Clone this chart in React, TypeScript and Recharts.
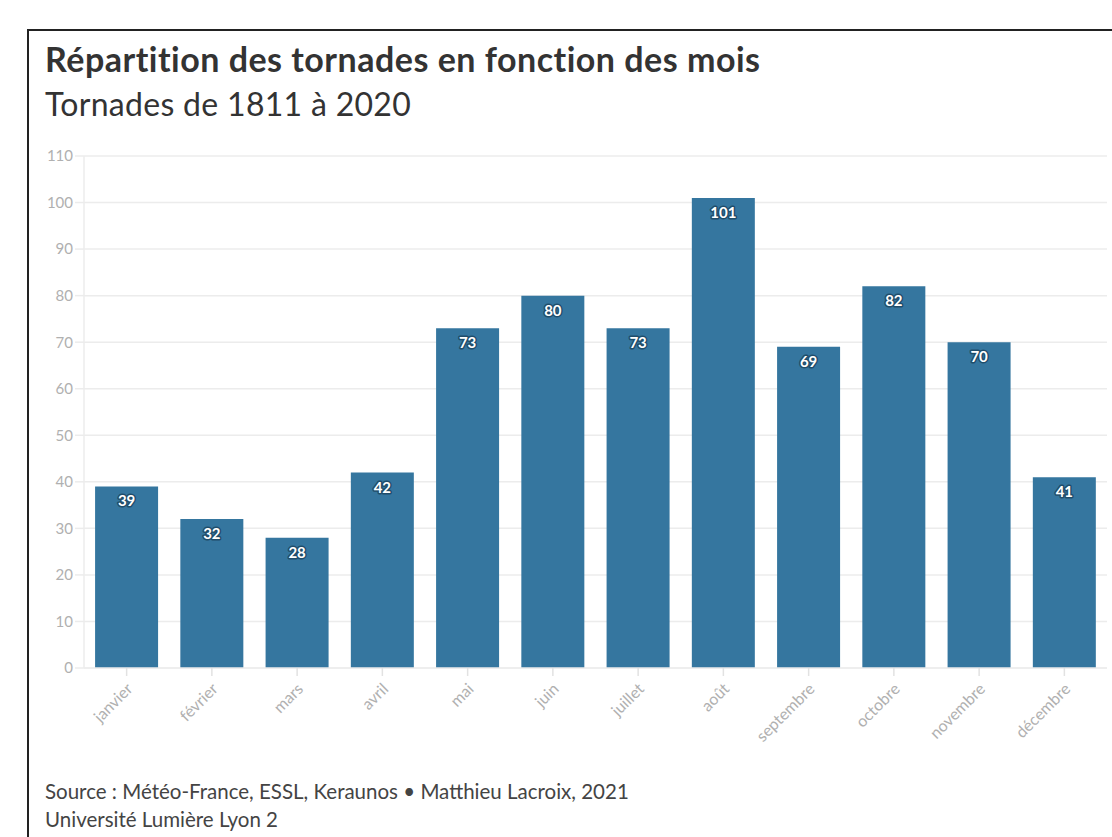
import { BarChart, Bar, XAxis, YAxis, CartesianGrid, LabelList } from "recharts";

const MONTHS = [
  "janvier",
  "février",
  "mars",
  "avril",
  "mai",
  "juin",
  "juillet",
  "août",
  "septembre",
  "octobre",
  "novembre",
  "décembre",
];
const TORNADES = [39, 32, 28, 42, 73, 80, 73, 101, 69, 82, 70, 41];
const Y_TICKS = [0, 10, 20, 30, 40, 50, 60, 70, 80, 90, 100, 110];

const FONT = "Lato, 'Noto Sans', sans-serif";
const BAR = "#35769f";

const data = MONTHS.map((m, i) => ({ mois: m, n: TORNADES[i] }));

type TickProps = { x?: number; y?: number; payload?: { value: string } };

function MonthTick({ x = 0, y = 0, payload }: TickProps) {
  return (
    <g transform={`translate(${x + 7},${y + 12})`}>
      <text
        transform="rotate(-45)"
        textAnchor="end"
        fill="#b0b0b0"
        fontSize={16}
        fontFamily={FONT}
      >
        {payload?.value}
      </text>
    </g>
  );
}

type LabelProps = { x?: number; y?: number; width?: number; value?: number };

function ValueLabel({ x = 0, y = 0, width = 0, value }: LabelProps) {
  return (
    <text
      x={x + width / 2}
      y={y + 14}
      textAnchor="middle"
      dominantBaseline="central"
      fontSize={15}
      fontWeight={700}
      fontFamily={FONT}
      fill="#fff"
      stroke="#1f4d6b"
      strokeWidth={3}
      paintOrder="stroke"
      strokeLinejoin="round"
    >
      {value}
    </text>
  );
}

export default function App() {
  return (
    <div
      style={{
        position: "fixed",
        top: 0,
        left: 0,
        width: 1112,
        height: 837,
        background: "#fff",
        overflow: "hidden",
        fontFamily: FONT,
      }}
    >
      <div
        style={{
          position: "absolute",
          left: 27,
          top: 29,
          width: 1200,
          height: 900,
          borderTop: "2px solid #222",
          borderLeft: "2px solid #222",
        }}
      />
      <div
        style={{
          position: "absolute",
          left: 45,
          top: 39,
          fontSize: 34,
          lineHeight: "40px",
          fontWeight: 700,
          letterSpacing: 0.5,
          color: "#333",
          whiteSpace: "nowrap",
        }}
      >
        Répartition des tornades en fonction des mois
      </div>
      <div
        style={{
          position: "absolute",
          left: 45,
          top: 85,
          fontSize: 32,
          lineHeight: "38px",
          fontWeight: 400,
          letterSpacing: 0.3,
          color: "#333",
          whiteSpace: "nowrap",
        }}
      >
        Tornades de 1811 à 2020
      </div>
      <div style={{ position: "absolute", left: 0, top: 140 }}>
        <BarChart
          width={1112}
          height={608}
          data={data}
          margin={{ top: 16, right: 5, bottom: 0, left: 30 }}
          barCategoryGap="13%"
        >
          <CartesianGrid vertical={false} stroke="#ececec" strokeWidth={1.5} />
          <XAxis
            dataKey="mois"
            interval={0}
            height={80}
            tick={<MonthTick />}
            tickSize={8}
            axisLine={{ stroke: "#ececec", strokeWidth: 1.5 }}
            tickLine={{ stroke: "#e2e2e2", strokeWidth: 1.5 }}
          />
          <YAxis
            domain={[0, 110]}
            ticks={Y_TICKS}
            interval={0}
            width={54}
            tickSize={9}
            tick={{ fill: "#b0b0b0", fontSize: 15, fontFamily: FONT }}
            axisLine={{ stroke: "#ececec", strokeWidth: 1.5 }}
            tickLine={{ stroke: "#ececec", strokeWidth: 1.5 }}
          />
          <Bar dataKey="n" fill={BAR} isAnimationActive={false}>
            <LabelList dataKey="n" content={<ValueLabel />} />
          </Bar>
        </BarChart>
      </div>
      <div
        style={{
          position: "absolute",
          left: 45,
          top: 777,
          fontSize: 20.5,
          lineHeight: "28px",
          color: "#444",
          whiteSpace: "nowrap",
        }}
      >
        Source : Météo-France, ESSL, Keraunos • Matthieu Lacroix, 2021
        <br />
        Université Lumière Lyon 2
      </div>
    </div>
  );
}
